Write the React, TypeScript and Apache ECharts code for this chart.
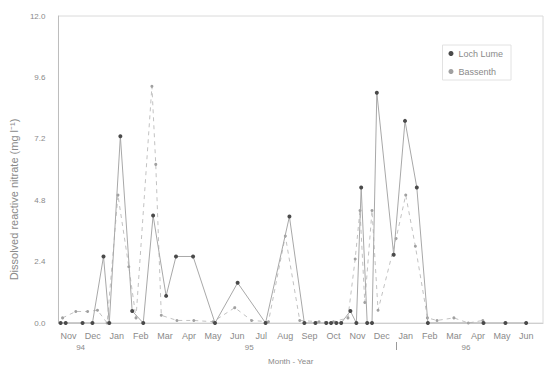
import React, { useEffect, useRef } from "react";
import * as echarts from "echarts";

const monthLabels = ["Nov", "Dec", "Jan", "Feb", "Mar", "Apr", "May", "Jun", "Jul", "Aug", "Sep", "Oct", "Nov", "Dec", "Jan", "Feb", "Mar", "Apr", "May", "Jun"];
const monthPositions = [0, 1, 2, 3, 4, 5, 6, 7, 8, 9, 10, 11, 12, 13, 14, 15, 16, 17, 18, 19];
const yearLabels = ["94", "95", "96"];
const yearPositions = [0.5, 7.5, 16.5];
const yearBreaks = [13.6];

const seriesNames = ["Loch Lume", "Bassenth"];

// Sampling time (months since Nov 94) and concentration
const lochTime = [-0.33, -0.12, 0.58, 0.99, 1.45, 1.69, 2.15, 2.64, 3.1, 3.51, 4.05, 4.46, 5.17, 6.08, 7.02, 8.18, 9.17, 9.79, 10.25, 10.7, 10.9, 11.12, 11.32, 11.7, 11.95, 12.15, 12.4, 12.6, 12.8, 13.5, 13.97, 14.46, 14.92, 17.23, 18.14, 19.0];
const lochValue = [0, 0, 0, 0, 2.6, 0, 7.3, 0.47, 0, 4.2, 1.06, 2.6, 2.6, 0, 1.57, 0, 4.16, 0, 0, 0, 0, 0, 0, 0.47, 0, 5.3, 0, 0, 9.0, 2.67, 7.9, 5.3, 0, 0, 0, 0];

const bassTime = [-0.25, 0.3, 0.79, 1.2, 1.6, 2.05, 2.5, 2.8, 3.46, 3.62, 3.85, 4.5, 5.2, 6.0, 6.9, 7.6, 8.3, 9.0, 9.6, 10.4, 11.0, 11.6, 11.9, 12.1, 12.3, 12.6, 12.85, 13.6, 14.0, 14.4, 14.9, 15.3, 16.0, 16.6, 17.2];
const bassValue = [0.2, 0.45, 0.45, 0.5, 0, 5.0, 2.2, 0.2, 9.25, 6.2, 0.3, 0.1, 0.1, 0.05, 0.6, 0.1, 0.05, 3.4, 0.1, 0.05, 0.05, 0.2, 2.5, 4.4, 0.8, 4.4, 0.5, 3.3, 5.0, 3.0, 0.2, 0.1, 0.2, 0, 0.1];

const zip = (xs: number[], ys: number[]) => xs.map((x, i) => [x, ys[i]]);

export default function App() {
  const ref = useRef<HTMLDivElement>(null);
  useEffect(() => {
    if (!ref.current) return;
    const chart = echarts.init(ref.current, null, { renderer: "svg" });
    const font = "Liberation Sans, Arial, sans-serif";
    const textColor = "#8a8a8a";
    chart.setOption({
      animation: false,
      backgroundColor: "#ffffff",
      grid: { left: 58, right: 10, top: 16, bottom: 49, show: true, borderColor: "#dadada", borderWidth: 1 },
      legend: {
        right: 42,
        top: 45,
        orient: "vertical",
        itemWidth: 5,
        itemHeight: 5,
        itemGap: 9,
        padding: [4, 8, 4, 6],
        borderColor: "#e2e2e2",
        borderWidth: 1,
        textStyle: { fontSize: 9, color: textColor, fontFamily: font },
        data: [
          { name: seriesNames[0], icon: "circle" },
          { name: seriesNames[1], icon: "circle" },
        ],
      },
      xAxis: [
        {
          type: "value",
          min: -0.42,
          max: 19.7,
          position: "bottom",
          name: "Month - Year",
          nameLocation: "middle",
          nameGap: 34,
          nameTextStyle: { fontSize: 8, color: textColor, fontFamily: font, padding: [0, 20, 0, 0] },
          axisLine: { show: true, onZero: false, lineStyle: { color: "#cfcfcf" } },
          axisTick: { show: false },
          splitLine: { show: false },
          axisLabel: {
            customValues: monthPositions,
            formatter: (v: number) => monthLabels[Math.round(v)] ?? "",
            fontSize: 9,
            color: textColor,
            fontFamily: font,
            margin: 8,
          },
        },
        {
          type: "value",
          min: -0.42,
          max: 19.7,
          position: "bottom",
          offset: 19,
          axisLine: { show: false, onZero: false },
          axisTick: { show: true, customValues: yearBreaks, length: 8, lineStyle: { color: "#9a9a9a" } },
          splitLine: { show: false },
          axisLabel: {
            customValues: yearPositions,
            formatter: (v: number) => yearLabels[yearPositions.indexOf(v)] ?? "",
            fontSize: 8,
            color: textColor,
            fontFamily: font,
            margin: 1,
          },
        },
      ],
      yAxis: {
        type: "value",
        min: 0,
        max: 12,
        interval: 2.4,
        name: "Dissolved reactive nitrate (mg l\u207B\u00B9)",
        nameLocation: "middle",
        nameGap: 38,
        nameTextStyle: { fontSize: 11, color: textColor, fontFamily: font, padding: [0, 60, 0, 0] },
        axisLine: { show: true, onZero: false, lineStyle: { color: "#bdbdbd" } },
        axisTick: { show: false },
        splitLine: { show: false },
        axisLabel: {
          formatter: (v: number) => v.toFixed(1),
          fontSize: 8,
          color: textColor,
          fontFamily: font,
          margin: 13,
        },
      },
      series: [
        {
          name: seriesNames[1],
          type: "line",
          data: zip(bassTime, bassValue),
          symbol: "circle",
          symbolSize: 3,
          itemStyle: { color: "#a0a0a0" },
          lineStyle: { color: "#c2c2c2", width: 1, type: [4, 4] },
          z: 2,
        },
        {
          name: seriesNames[0],
          type: "line",
          data: zip(lochTime, lochValue),
          symbol: "circle",
          symbolSize: 4,
          itemStyle: { color: "#4a4a4a" },
          lineStyle: { color: "#a8a8a8", width: 1 },
          z: 3,
        },
      ],
    });
    return () => chart.dispose();
  }, []);
  return <div ref={ref} style={{ width: 553, height: 372, margin: -8 }} />;
}
